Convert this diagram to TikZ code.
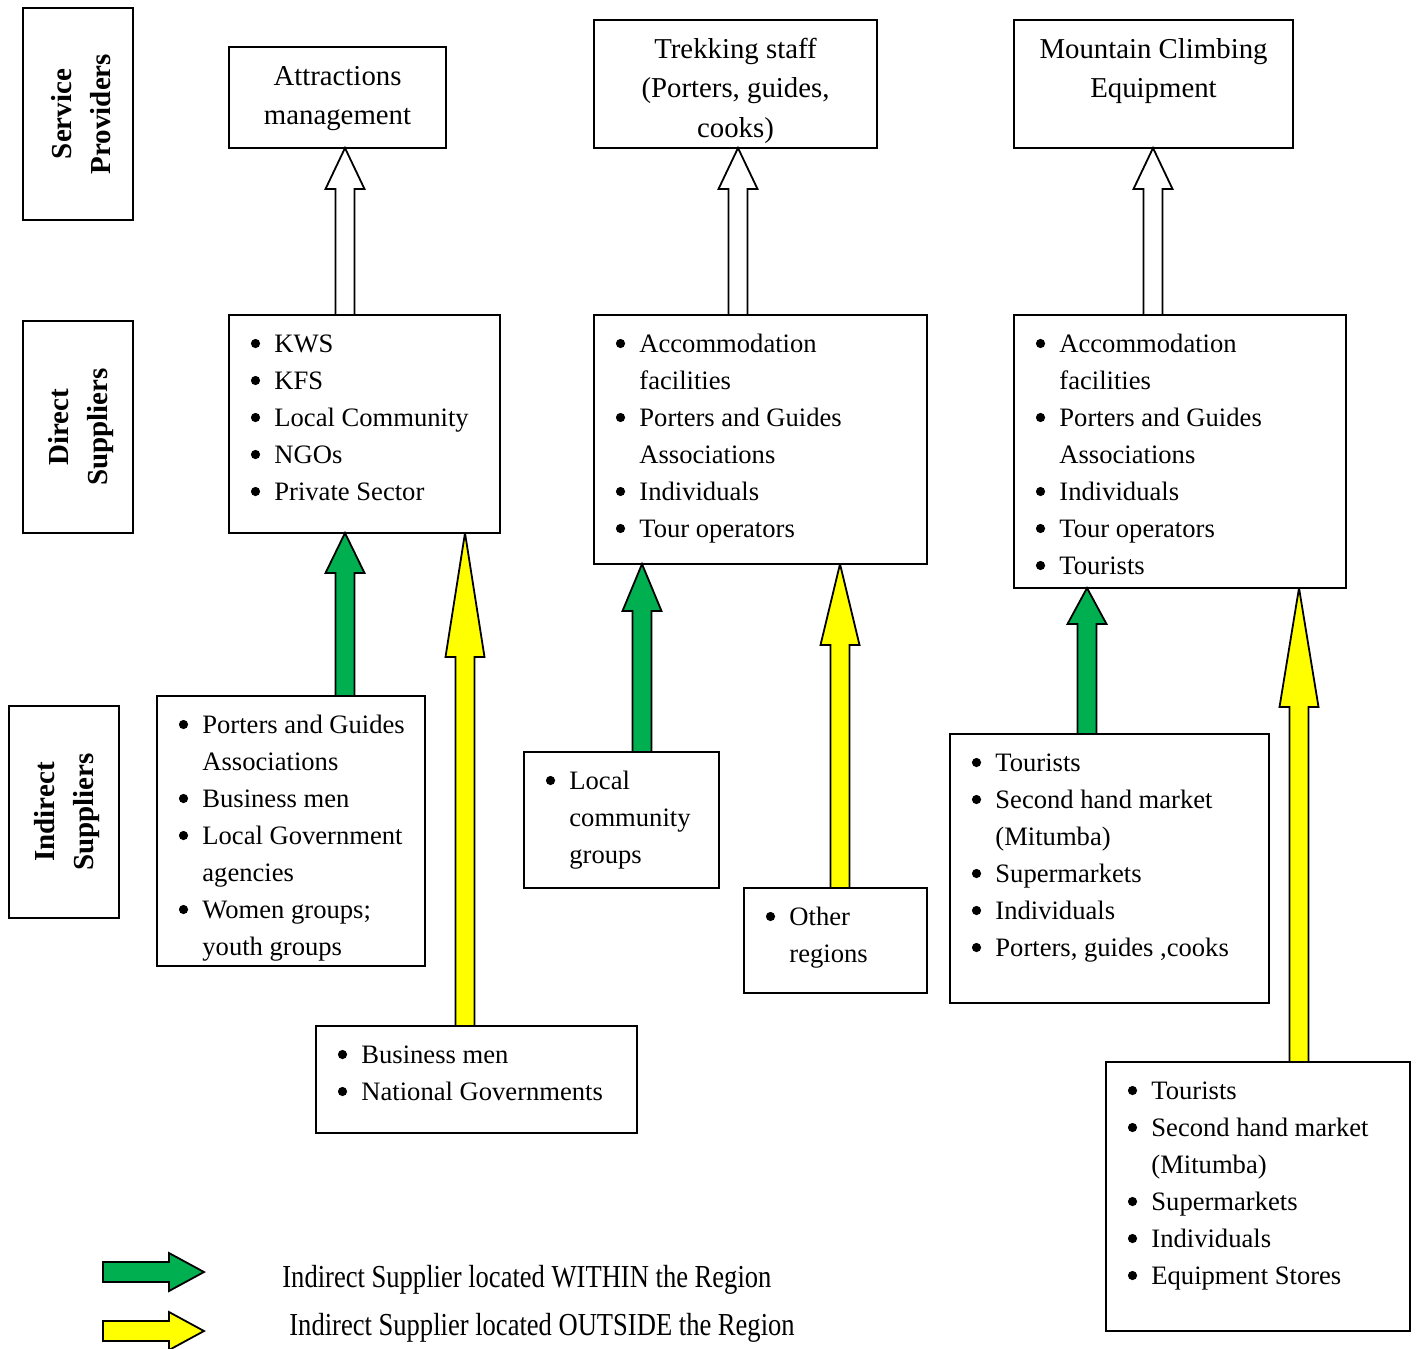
\documentclass[tikz,border=0pt]{standalone}
\usepackage{fontspec}
\setmainfont{Liberation Serif}
\usetikzlibrary{calc}
\definecolor{grn}{RGB}{0,176,80}
\definecolor{ylw}{RGB}{255,255,0}
\tikzset{
 box/.style={draw, line width=1pt, rectangle, outer sep=0pt, inner sep=0pt, anchor=north west},
 lst/.style={anchor=north west, inner sep=0pt, font=\fontsize{13.3}{18.5}\selectfont},
 ttl/.style={anchor=north, inner sep=0pt, font=\fontsize{14.4}{19.75}\selectfont},
 lab/.style={rotate=90, inner sep=0pt, align=center, font=\fontsize{14.5}{19.5}\selectfont\bfseries},
 arr/.style={draw, line width=0.9pt, line join=miter, miter limit=3},
 leg/.style={anchor=west, inner sep=0pt, font=\fontsize{16}{19}\selectfont},
}
\newcommand\bx[5]{\node[box, minimum width={(#4-#2)*0.5pt}, minimum height={(#5-#3)*0.5pt}] (#1) at (#2,#3) {};}
\newcommand\bul{\makebox[11.75pt][l]{\tikz[baseline=-4.4pt]\fill (0,0) circle (2.3pt);}}
\newcommand\blist[3]{\node[lst] (#1) at ($(#2.north west)+(21.5,11)$) {\begin{tabular}{@{}l@{}l@{}}#3\end{tabular}};}
\newcommand\ttlnode[3]{\node[ttl] (#1) at ($(#2.north)+(0,10)$) {\begin{tabular}{@{}c@{}}#3\end{tabular}};}
\newcommand\barrow[5]{%
\draw[arr,#1] let \p1=(#2.north), \p2=(#3.south) in
 ({#4*0.5pt-4.75pt},\y1) -- ({#4*0.5pt-4.75pt},{\y2-#5*0.5pt}) -- ({#4*0.5pt-9.75pt},{\y2-#5*0.5pt}) -- ({#4*0.5pt},\y2) -- ({#4*0.5pt+9.75pt},{\y2-#5*0.5pt}) -- ({#4*0.5pt+4.75pt},{\y2-#5*0.5pt}) -- ({#4*0.5pt+4.75pt},\y1) -- cycle;}
\begin{document}
\begin{tikzpicture}[x=0.5pt,y=-0.5pt]
\useasboundingbox (0,0) rectangle (1416,1348);
% row label boxes
\bx{sp}{23}{8}{133}{220}
\bx{ds}{23}{321}{133}{533}
\bx{is}{9}{706}{119}{918}
\node[lab] (spt) at ($(sp.center)+(3,0)$) {Service\\Providers};
\node[lab] (dst) at ($(ds.center)+(3,0)$) {Direct\\Suppliers};
\node[lab] (ist) at ($(is.center)+(3,0)$) {Indirect\\Suppliers};
% service providers
\bx{t1}{229}{47}{446}{148}
\bx{t2}{594}{20}{877}{148}
\bx{t3}{1014}{20}{1293}{148}
\ttlnode{t1t}{t1}{Attractions\\management}
\ttlnode{t2t}{t2}{Trekking staff\\(Porters, guides,\\cooks)}
\ttlnode{t3t}{t3}{Mountain Climbing\\Equipment}
% direct suppliers
\bx{d1}{229}{315}{500}{533}
\bx{d2}{594}{315}{927}{564}
\bx{d3}{1014}{315}{1346}{588}
\blist{d1t}{d1}{\bul&KWS\\ \bul&KFS\\ \bul&Local Community\\ \bul&NGOs\\ \bul&Private Sector}
\blist{d2t}{d2}{\bul&Accommodation\\ &facilities\\ \bul&Porters and Guides\\ &Associations\\ \bul&Individuals\\ \bul&Tour operators}
\blist{d3t}{d3}{\bul&Accommodation\\ &facilities\\ \bul&Porters and Guides\\ &Associations\\ \bul&Individuals\\ \bul&Tour operators\\ \bul&Tourists}
% indirect suppliers
\bx{ia}{157}{696}{425}{966}
\bx{ib}{316}{1026}{637}{1133}
\bx{ic}{524}{752}{719}{888}
\bx{id}{744}{888}{927}{993}
\bx{ie}{950}{734}{1269}{1003}
\bx{ix}{1106}{1062}{1410}{1331}
\blist{iat}{ia}{\bul&Porters and Guides\\ &Associations\\ \bul&Business men\\ \bul&Local Government\\ &agencies\\ \bul&Women groups;\\ &youth groups}
\blist{ibt}{ib}{\bul&Business men\\ \bul&National Governments}
\blist{ict}{ic}{\bul&Local\\ &community\\ &groups}
\blist{idt}{id}{\bul&Other\\ &regions}
\blist{iet}{ie}{\bul&Tourists\\ \bul&Second hand market\\ &(Mitumba)\\ \bul&Supermarkets\\ \bul&Individuals\\ \bul&Porters, guides ,cooks}
\blist{ixt}{ix}{\bul&Tourists\\ \bul&Second hand market\\ &(Mitumba)\\ \bul&Supermarkets\\ \bul&Individuals\\ \bul&Equipment Stores}
% connectors
\barrow{fill=white}{d1}{t1}{345}{41}
\barrow{fill=white}{d2}{t2}{738}{41}
\barrow{fill=white}{d3}{t3}{1153}{41}
\barrow{fill=grn}{ia}{d1}{345}{40}
\barrow{fill=grn}{ic}{d2}{642}{47}
\barrow{fill=grn}{ie}{d3}{1087}{36}
\barrow{fill=ylw}{ib}{d1}{465}{124}
\barrow{fill=ylw}{id}{d2}{840}{81}
\barrow{fill=ylw}{ix}{d3}{1299}{119}
% legend
\draw[arr, fill=grn] (103,1262) -- (169,1262) -- (169,1253) -- (204,1272) -- (169,1291) -- (169,1282) -- (103,1282) -- cycle;
\draw[arr, fill=ylw] (103,1321) -- (169,1321) -- (169,1312) -- (204,1331) -- (169,1350) -- (169,1341) -- (103,1341) -- cycle;
\node[leg] (lg1) at (282,1280) {\scalebox{0.83}[1]{Indirect Supplier located WITHIN the Region}};
\node[leg] (lg2) at (289,1328) {\scalebox{0.83}[1]{Indirect Supplier located OUTSIDE the Region}};
\end{tikzpicture}
\end{document}
